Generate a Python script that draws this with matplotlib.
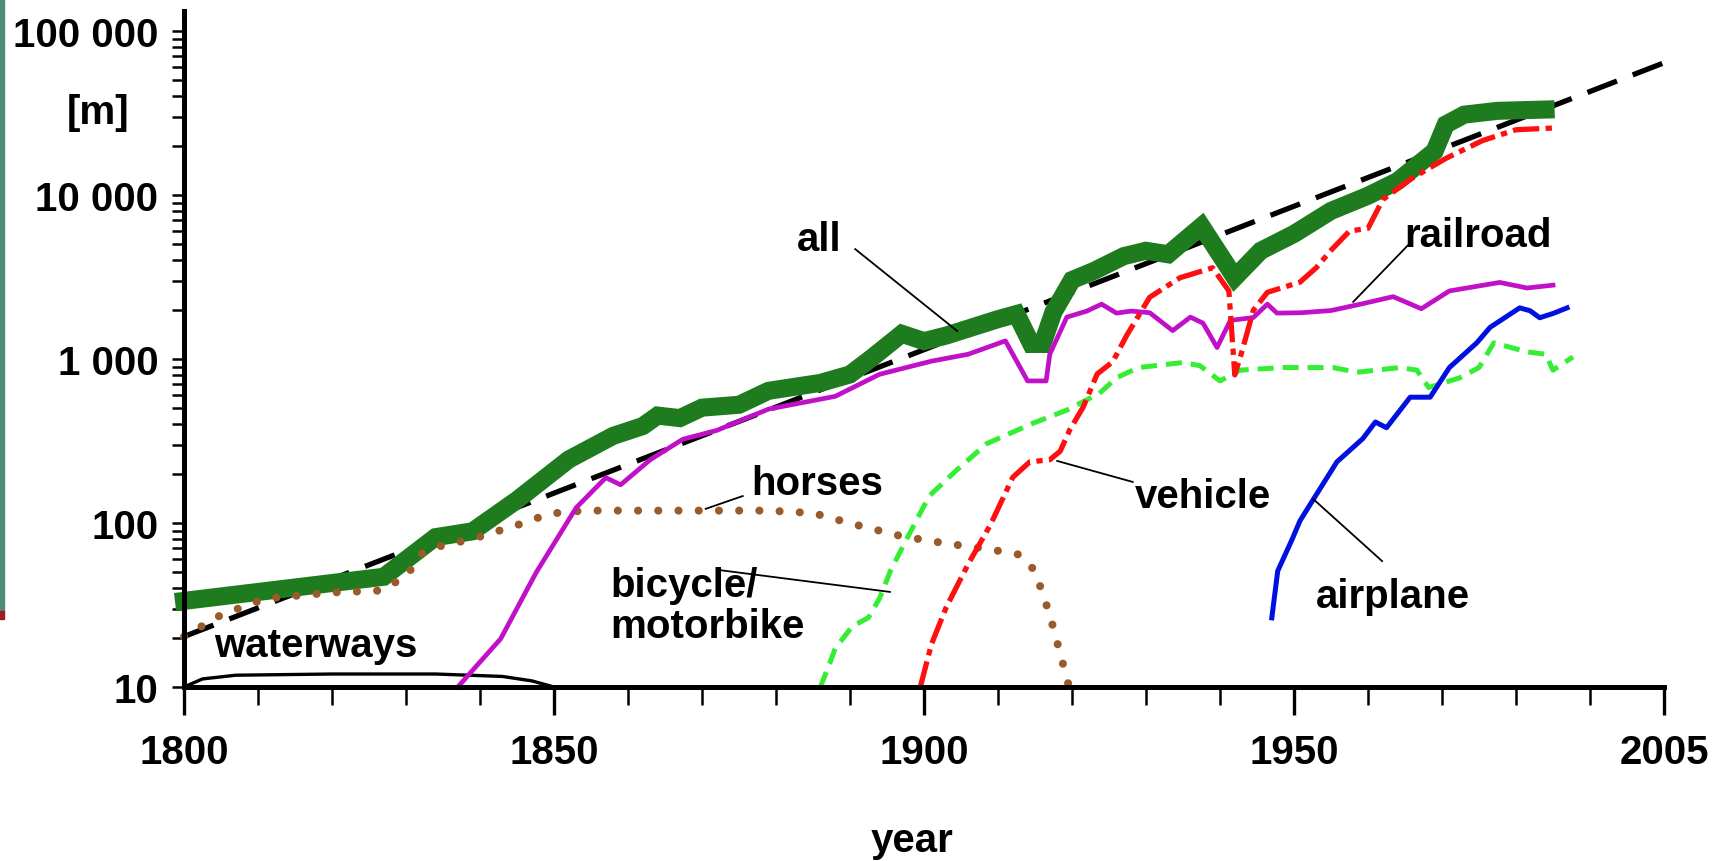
import matplotlib
matplotlib.use('Agg')
import matplotlib.pyplot as plt
from matplotlib.patches import Rectangle
from matplotlib.ticker import FixedLocator, FixedFormatter, LogLocator, NullFormatter

# --- data (year, length in m) ---
all_years = [1800, 1827, 1834, 1839, 1845, 1852, 1858, 1862, 1864, 1867, 1870, 1875, 1879,
             1886, 1890, 1893, 1897, 1900, 1903, 1910, 1912.5, 1914.5, 1916, 1917.5, 1920,
             1923, 1927, 1930, 1933, 1937.5, 1942, 1945.5, 1950, 1955, 1960, 1964, 1969,
             1970.5, 1973, 1977.5, 1984]
all_vals = [33.5, 47, 82, 89, 138, 244, 340, 390, 452, 436, 505, 526, 640,
            715, 805, 1020, 1425, 1285, 1390, 1750, 1880, 1235, 1235, 1935, 3030,
            3450, 4240, 4570, 4350, 6450, 3140, 4570, 5790, 8000, 9900, 12150, 18500,
            26900, 30900, 32600, 33200]

trend_years = [1800, 2000]
trend_vals = [20.3, 64000]

horse_years = [1800, 1805, 1811, 1820, 1826.4, 1830, 1832, 1834.5, 1839, 1845, 1849.4, 1854,
               1864, 1879, 1885, 1891, 1897, 1903, 1909, 1913, 1915, 1917, 1919, 1919.6]
horse_vals = [20.3, 27.5, 34.6, 37.7, 38.7, 47, 64.5, 72, 80, 97, 114, 119,
              119, 119, 115, 97, 83, 75, 69, 64, 51, 27.5, 12.7, 10]

rail_years = [1837, 1842.8, 1847.6, 1853, 1857, 1859, 1863, 1867.4, 1872, 1879, 1888, 1894,
              1901, 1906, 1911, 1914, 1916.5, 1917, 1919.3, 1922, 1924, 1926, 1928, 1930.5,
              1933.6, 1936, 1937.7, 1939.6, 1941.4, 1944.5, 1946.4, 1947.7, 1951, 1955, 1959,
              1963.4, 1967.2, 1971, 1977.8, 1981.5, 1985]
rail_vals = [10, 19.7, 50, 124, 189, 171, 243, 324, 367, 495, 592, 807,
             970, 1070, 1290, 735, 735, 1070, 1800, 1960, 2160, 1905, 1960, 1915,
             1490, 1800, 1655, 1175, 1720, 1790, 2160, 1905, 1915, 1975, 2160,
             2400, 2025, 2600, 2930, 2710, 2820]

vehicle_years = [1899.5, 1901, 1903, 1906, 1909, 1912, 1914.3, 1917, 1918.4, 1919.7, 1921.5,
                 1923.4, 1925.5, 1927.4, 1930.5, 1934.6, 1939, 1941.2, 1942, 1943, 1944.5,
                 1946.4, 1950.8, 1953, 1955, 1957.5, 1960, 1962, 1966, 1970.5, 1975.5, 1980, 1985]
vehicle_vals = [10, 18.2, 30.6, 56.5, 98, 190, 236, 243, 274, 370, 508,
                810, 962, 1395, 2380, 3130, 3600, 2600, 800, 1125, 1980,
                2550, 2940, 3600, 4600, 6030, 6260, 9380, 12700, 16700, 21500, 25000, 25600]

bike_years = [1886, 1887.3, 1888, 1890.3, 1892.5, 1894, 1895.5, 1897.7, 1900.7, 1904.4, 1908.5,
              1914.8, 1919.3, 1923.7, 1926, 1929, 1935, 1937.3, 1940, 1942.7, 1948.5, 1955.3,
              1958.5, 1964.3, 1966.6, 1968.2, 1972.4, 1975, 1977, 1981.5, 1984, 1985, 1987.7]
bike_vals = [10, 14.1, 17.2, 23.4, 26.5, 34.8, 51.5, 80.5, 146, 210, 305,
             407, 488, 617, 768, 887, 952, 910, 735, 855, 887, 887,
             830, 887, 855, 670, 768, 887, 1255, 1105, 1070, 855, 1030]

air_years = [1947, 1947.8, 1949.8, 1950.8, 1952.6, 1955.8, 1959.3, 1961, 1962.5, 1965.7,
             1968.4, 1971, 1974.7, 1976.5, 1980.5, 1981.9, 1983.2, 1985, 1986.9]
air_vals = [26.4, 51, 80.5, 103, 139, 236, 327, 413, 381, 585,
            585, 887, 1255, 1560, 2050, 1970, 1785, 1895, 2050]

water_years = [1800, 1802.5, 1807, 1820, 1834, 1843, 1847, 1850]
water_vals = [10, 11.2, 11.8, 12, 12, 11.6, 10.9, 10]

xtick_years = [1800, 1850, 1900, 1950, 2000]
xtick_labels = ['1800', '1850', '1900', '1950', '2005']
ytick_vals = [10, 100, 1000, 10000, 100000]
ytick_labels = ['10', '100', '1 000', '10 000', '100 000']

# label text, text position, leader line (from, to)
labels = [
    ('all', (1885.8, 5400), (1890.7, 4680), (1904.5, 1480)),
    ('horses', (1885.5, 175), (1875.5, 146), (1870.5, 122)),
    ('bicycle/\nmotorbike', (1857.6, 31.2), (1872.4, 51.6), (1895.4, 38)),
    ('vehicle', (1937.7, 146), (1928.2, 178), (1918, 239)),
    ('railroad', (1974.9, 5700), (1965.7, 5100), (1958, 2230)),
    ('airplane', (1963.4, 35.9), (1961.9, 58.6), (1952.6, 140)),
    ('waterways', (1817.8, 18), None, None),
]

plt.rcParams['font.family'] = ['Liberation Sans', 'DejaVu Sans']
plt.rcParams['font.weight'] = 'bold'
FS = 29

fig = plt.figure(figsize=(17.23, 8.62), dpi=100)
ax = fig.add_axes([184 / 1723, 174 / 862, 1480 / 1723, 676 / 862])

# slide remnants at the left edge
fig.patches.append(Rectangle((0, 1 - 612 / 862), 4 / 1723, 612 / 862,
                             transform=fig.transFigure, color='#4f8c7c'))
fig.patches.append(Rectangle((0, 1 - 620 / 862), 4 / 1723, 8 / 862,
                             transform=fig.transFigure, color='#a01c1c'))

ax.plot(water_years, water_vals, color='black', lw=2.4, clip_on=False)
ax.plot(trend_years, trend_vals, color='black', lw=3.8, dashes=(6, 3.2), clip_on=False)
ax.plot(all_years, all_vals, color='#1e7b1e', lw=13, solid_joinstyle='miter', clip_on=False)
ax.plot(horse_years, horse_vals, color='#9a5b2a', lw=5.8, dashes=(0.01, 2.5),
        dash_capstyle='round', clip_on=False)
ax.plot(rail_years, rail_vals, color='#c010c8', lw=3.4, clip_on=False)
ax.plot(bike_years, bike_vals, color='#33ee33', lw=3.6, dashes=(3.2, 1.8), clip_on=False)
ax.plot(vehicle_years, vehicle_vals, color='#ff1010', lw=3.8, dashes=(5, 1.2, 1.2, 1.2),
        clip_on=False)
ax.plot(air_years, air_vals, color='#0010e0', lw=3.6, clip_on=False)

for text, pos, start, end in labels:
    ax.text(pos[0], pos[1], text, fontsize=FS, fontweight='bold',
            ha='left' if '\n' in text else 'center', va='center', linespacing=1.1)
    if start is not None:
        ax.plot([start[0], end[0]], [start[1], end[1]], color='black', lw=1.3)

ax.set_yscale('log')
ax.set_xlim(1800, 2000)
ax.set_ylim(10, 10 ** 5.122)

ax.xaxis.set_major_locator(FixedLocator(xtick_years))
ax.xaxis.set_major_formatter(FixedFormatter(xtick_labels))
ax.xaxis.set_minor_locator(FixedLocator(list(range(1800, 2001, 10))))
ax.yaxis.set_major_locator(FixedLocator(ytick_vals))
ax.yaxis.set_major_formatter(FixedFormatter(ytick_labels))
ax.yaxis.set_minor_locator(LogLocator(base=10, subs=range(2, 10)))
ax.yaxis.set_minor_formatter(NullFormatter())

ax.tick_params(axis='x', which='major', direction='out', length=20, width=2.4,
               labelsize=FS, pad=13)
ax.tick_params(axis='x', which='minor', direction='out', length=13, width=1.8)
ax.tick_params(axis='y', which='both', direction='out', length=8.5, width=1.8,
               labelsize=FS, pad=10)

for side in ['top', 'right']:
    ax.spines[side].set_visible(False)
for side in ['left', 'bottom']:
    ax.spines[side].set_linewidth(3.6)

fig.text(912 / 1723, 1 - 841 / 862, 'year', fontsize=FS, fontweight='bold',
         ha='center', va='center')
fig.text(98 / 1723, 1 - 113 / 862, '[m]', fontsize=FS, fontweight='bold',
         ha='center', va='center')

fig.savefig('out.png', dpi=100)
